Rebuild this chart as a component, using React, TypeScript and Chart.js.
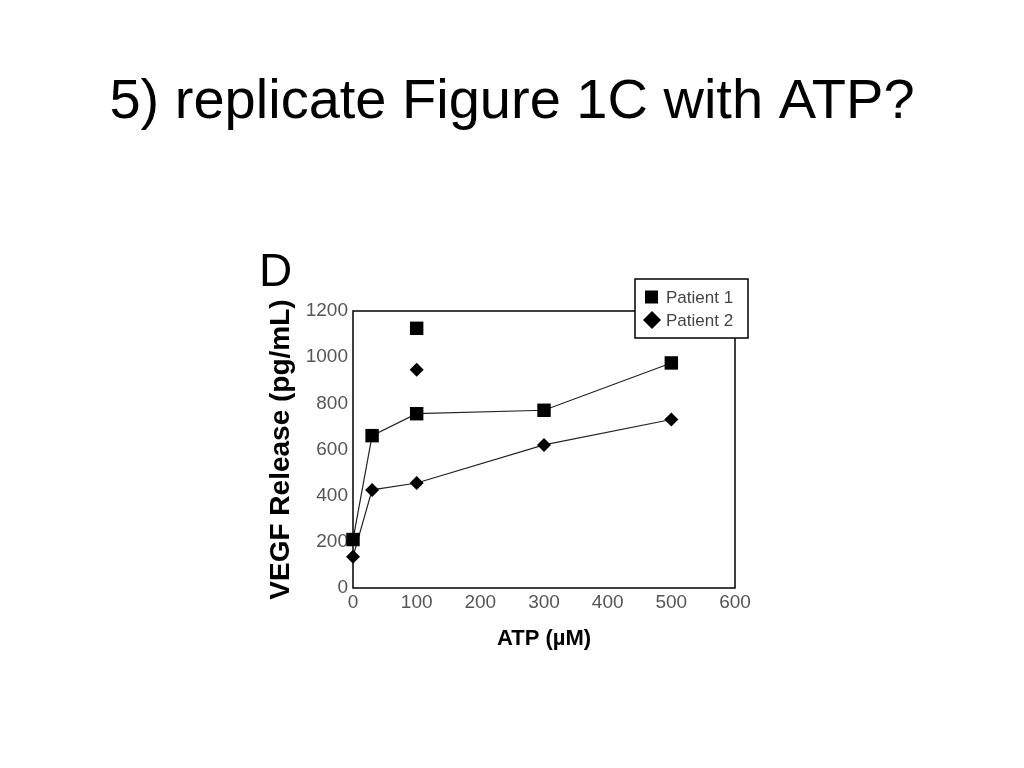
import React, { useEffect, useRef } from "react";
import { Chart, registerables } from "chart.js";

Chart.register(...registerables);

const slideTitle = "5) replicate Figure 1C with ATP?";
const panelLetter = "D";
const xAxisTitle = "ATP (µM)";
const yAxisTitle = "VEGF Release (pg/mL)";
const seriesNames = ["Patient 1", "Patient 2"];

const atpDoses = [0, 30, 100, 300, 500];
const patient1 = [210, 660, 755, 770, 975];
const patient2 = [135, 425, 455, 620, 730];

const extraDose = [100];
const patient1Extra = [1125];
const patient2Extra = [945];

const FONT = "'Liberation Sans', Arial, Helvetica, sans-serif";

const toPoints = (xs: number[], ys: number[]) => xs.map((x, i) => ({ x, y: ys[i] }));

const decorPlugin = {
  id: "decor",
  beforeDatasetsDraw(chart: any) {
    const { ctx, chartArea } = chart;
    ctx.save();
    ctx.strokeStyle = "#000";
    ctx.lineWidth = 1.5;
    ctx.strokeRect(chartArea.left, chartArea.top, chartArea.right - chartArea.left, chartArea.bottom - chartArea.top);
    ctx.restore();
  },
  afterDraw(chart: any) {
    const { ctx } = chart;
    ctx.save();
    // slide title
    ctx.fillStyle = "#000";
    ctx.font = `56px ${FONT}`;
    ctx.textAlign = "center";
    ctx.textBaseline = "alphabetic";
    ctx.fillText(slideTitle, 512, 118);
    // panel letter
    ctx.font = `46px ${FONT}`;
    ctx.textAlign = "left";
    ctx.fillText(panelLetter, 259, 286);
    // legend box
    const bx = 635, by = 279, bw = 113, bh = 59;
    ctx.fillStyle = "#fff";
    ctx.fillRect(bx, by, bw, bh);
    ctx.strokeStyle = "#000";
    ctx.lineWidth = 1.5;
    ctx.strokeRect(bx, by, bw, bh);
    // markers
    ctx.fillStyle = "#000";
    ctx.fillRect(645, 290.5, 13, 13);
    ctx.beginPath();
    ctx.moveTo(652, 311);
    ctx.lineTo(661, 320);
    ctx.lineTo(652, 329);
    ctx.lineTo(643, 320);
    ctx.closePath();
    ctx.fill();
    ctx.fillStyle = "#444";
    ctx.font = `17px ${FONT}`;
    ctx.textBaseline = "middle";
    ctx.fillText(seriesNames[0], 666, 298);
    ctx.fillText(seriesNames[1], 666, 321);
    ctx.restore();
  },
};

export default function App() {
  const canvasRef = useRef<HTMLCanvasElement | null>(null);

  useEffect(() => {
    if (!canvasRef.current) return;
    const chart = new Chart(canvasRef.current, {
      type: "scatter",
      data: {
        datasets: [
          {
            label: seriesNames[0],
            data: toPoints(atpDoses, patient1),
            showLine: true,
            clip: false,
            borderColor: "#222",
            borderWidth: 1.2,
            backgroundColor: "#000",
            pointStyle: "rect",
            pointRadius: 9.5,
            pointBorderWidth: 0,
          },
          {
            label: seriesNames[1],
            data: toPoints(atpDoses, patient2),
            showLine: true,
            clip: false,
            borderColor: "#222",
            borderWidth: 1.2,
            backgroundColor: "#000",
            pointStyle: "rectRot",
            pointRadius: 7,
            pointBorderWidth: 0,
          },
          {
            label: seriesNames[0] + " (separate)",
            data: toPoints(extraDose, patient1Extra),
            showLine: false,
            clip: false,
            backgroundColor: "#000",
            pointStyle: "rect",
            pointRadius: 9.5,
            pointBorderWidth: 0,
          },
          {
            label: seriesNames[1] + " (separate)",
            data: toPoints(extraDose, patient2Extra),
            showLine: false,
            clip: false,
            backgroundColor: "#000",
            pointStyle: "rectRot",
            pointRadius: 7,
            pointBorderWidth: 0,
          },
        ],
      },
      options: {
        responsive: false,
        animation: false,
        layout: { padding: { left: 264, right: 289, top: 311, bottom: 116 } },
        plugins: {
          legend: { display: false },
          title: { display: false },
          tooltip: { enabled: false },
        },
        scales: {
          x: {
            type: "linear",
            min: 0,
            max: 600,
            afterFit: (s: any) => { s.height = 64; },
            grid: { display: false, drawTicks: false },
            border: { display: false },
            ticks: { stepSize: 100, padding: 3, color: "#555", font: { family: FONT, size: 19 }, maxRotation: 0, callback: (v: any) => String(v) },
            title: { display: true, text: xAxisTitle, color: "#000", padding: 0, font: { family: FONT, size: 22, weight: "bold" } },
          },
          y: {
            type: "linear",
            min: 0,
            max: 1200,
            afterFit: (s: any) => { s.width = 89; },
            grid: { display: false, drawTicks: false },
            border: { display: false },
            ticks: { stepSize: 200, padding: 5, color: "#555", font: { family: FONT, size: 19 }, callback: (v: any) => String(v) },
            title: { display: true, text: yAxisTitle, color: "#000", padding: 0, font: { family: FONT, size: 28, weight: "bold" } },
          },
        },
      },
      plugins: [decorPlugin],
    });
    return () => chart.destroy();
  }, []);

  return (
    <div style={{ position: "fixed", left: 0, top: 0, width: 1024, height: 768, background: "#fff" }}>
      <canvas ref={canvasRef} width={1024} height={768} />
    </div>
  );
}
